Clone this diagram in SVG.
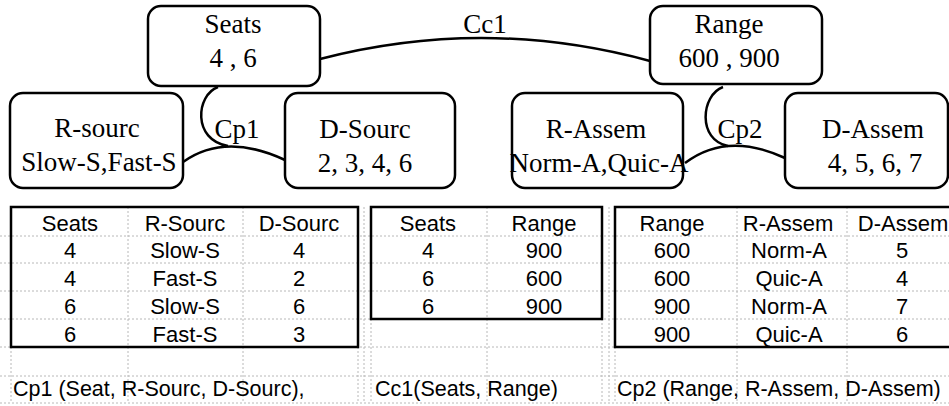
<svg xmlns="http://www.w3.org/2000/svg" width="949" height="406" viewBox="0 0 949 406">
<style>
.box{fill:#fff;stroke:#000;stroke-width:2.5}
.t{font-family:"Liberation Serif","Times New Roman",serif;font-size:27px;fill:#000;text-anchor:middle}
.con{fill:none;stroke:#000;stroke-width:2.5}
.grid{stroke:#b8b8b8;stroke-width:1;stroke-dasharray:2,2;fill:none}
.tb{fill:none;stroke:#000;stroke-width:2.5}
.c{font-family:"Liberation Sans",Arial,sans-serif;font-size:22px;fill:#000;text-anchor:middle}
.l{font-family:"Liberation Sans",Arial,sans-serif;font-size:21.5px;fill:#000}
</style>
<rect width="949" height="406" fill="#fff"/>
<g id="connectors">
<path class="con" d="M320,59 Q485,16 650,61"/>
<path class="con" d="M218,87 C196,95 192,140 228,146"/>
<path class="con" d="M183,162 Q225,132 285,160"/>
<path class="con" d="M723,87 C701,95 697,140 728,146"/>
<path class="con" d="M685,163 Q727,131 785,158"/>
<text class="t" x="485" y="33">Cc1</text>
<text class="t" x="237" y="138">Cp1</text>
<text class="t" x="740" y="138">Cp2</text>
</g>
<g id="seats"><rect class="box" x="148" y="6" width="172" height="80" rx="13"/><text class="t" x="233" y="33">Seats</text><text class="t" x="233" y="67" font-size="28">4 , 6</text></g>
<g id="range"><rect class="box" x="650" y="6" width="172" height="78" rx="13"/><text class="t" x="729" y="33">Range</text><text class="t" x="729" y="67" font-size="28">600 , 900</text></g>
<g id="r-sourc"><rect class="box" x="10" y="93" width="173" height="95" rx="13"/><text class="t" x="97" y="137">R-sourc</text><text class="t" x="99" y="171" font-size="25.5">Slow-S,Fast-S</text></g>
<g id="d-sourc"><rect class="box" x="285" y="93" width="170" height="95" rx="13"/><text class="t" x="365" y="138">D-Sourc</text><text class="t" x="365" y="172" font-size="28">2, 3, 4, 6</text></g>
<g id="r-assem"><rect class="box" x="512" y="93" width="171" height="95" rx="13"/><text class="t" x="596" y="138">R-Assem</text><text class="t" x="599" y="172" font-size="24.5">Norm-A,Quic-A</text></g>
<g id="d-assem"><rect class="box" x="785" y="93" width="163" height="95" rx="13"/><text class="t" x="873" y="138">D-Assem</text><text class="t" x="875" y="172" font-size="28">4, 5, 6, 7</text></g>
<g id="grid">
<path class="grid" d="M0,236H949M0,263H949M0,291H949M0,319H949M0,347H949M0,376H949M0,403H949"/>
<path class="grid" d="M11,207V403M128,207V403M243,207V403M358,207V403M364,207V403M371,207V403M487,207V403M602,207V403M609,207V403M615,207V403M737,207V403M847,207V403"/>
</g>
<g id="table-cp1">
<rect class="tb" x="11" y="207" width="347" height="140"/>
<text class="c" x="70" y="231">Seats</text><text class="c" x="185" y="231">R-Sourc</text><text class="c" x="299" y="231">D-Sourc</text>
<text class="c" x="70" y="258">4</text><text class="c" x="185" y="258">Slow-S</text><text class="c" x="299" y="258">4</text>
<text class="c" x="70" y="286">4</text><text class="c" x="185" y="286">Fast-S</text><text class="c" x="299" y="286">2</text>
<text class="c" x="70" y="314">6</text><text class="c" x="185" y="314">Slow-S</text><text class="c" x="299" y="314">6</text>
<text class="c" x="70" y="342">6</text><text class="c" x="185" y="342">Fast-S</text><text class="c" x="299" y="342">3</text>
<text class="l" x="13" y="396">Cp1 (Seat, R-Sourc, D-Sourc),</text>
</g>
<g id="table-cc1">
<rect class="tb" x="371" y="207" width="231" height="112"/>
<text class="c" x="428" y="231">Seats</text><text class="c" x="544" y="231">Range</text>
<text class="c" x="428" y="258">4</text><text class="c" x="544" y="258">900</text>
<text class="c" x="428" y="286">6</text><text class="c" x="544" y="286">600</text>
<text class="c" x="428" y="314">6</text><text class="c" x="544" y="314">900</text>
<text class="l" x="375" y="396">Cc1(Seats, Range)</text>
</g>
<g id="table-cp2">
<rect class="tb" x="615" y="207" width="345" height="140"/>
<text class="c" x="672" y="231">Range</text><text class="c" x="788" y="231">R-Assem</text><text class="c" x="903" y="231">D-Assem</text>
<text class="c" x="672" y="258">600</text><text class="c" x="789" y="258">Norm-A</text><text class="c" x="902" y="258">5</text>
<text class="c" x="672" y="286">600</text><text class="c" x="789" y="286">Quic-A</text><text class="c" x="902" y="286">4</text>
<text class="c" x="672" y="314">900</text><text class="c" x="789" y="314">Norm-A</text><text class="c" x="902" y="314">7</text>
<text class="c" x="672" y="342">900</text><text class="c" x="789" y="342">Quic-A</text><text class="c" x="902" y="342">6</text>
<text class="l" x="617" y="396">Cp2 (Range, R-Assem, D-Assem)</text>
</g>
</svg>
